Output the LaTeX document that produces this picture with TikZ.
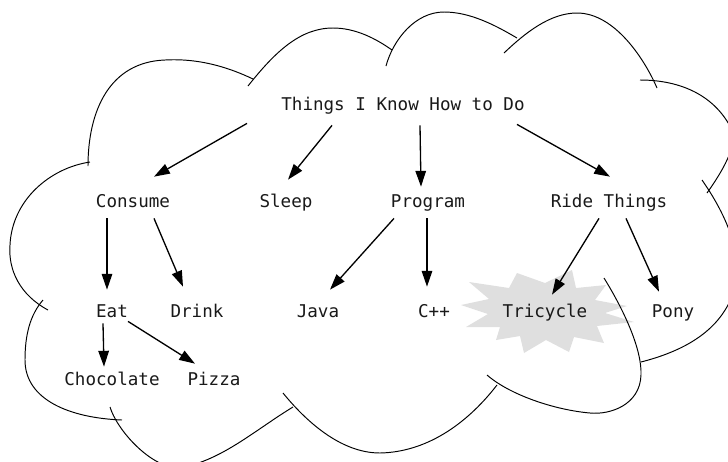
\documentclass[tikz,border=0pt]{standalone}
\usepackage{fontspec}
\newfontfamily\wordfont{DejaVu Sans Mono}
\usetikzlibrary{arrows.meta}

\tikzset{
  word/.style={font=\wordfont\fontsize{10pt}{12pt}\selectfont,text=black!90,
    inner sep=0pt,text height=7.4pt,text depth=2.3pt,anchor=base},
  arr/.style={-{Triangle[length=9pt,width=6pt]},line width=0.75pt},
  cloudline/.style={line width=0.55pt},
  burst/.style={fill=gray!25}
}

\begin{document}
\begin{tikzpicture}[x=0.02cm,y=-0.02cm]
  \useasboundingbox (0,0) rectangle (728,461);
  % star behind Tricycle
  \fill[burst,shift={(545,311)}]
    (-84,-6) -- (-56,-12) -- (-76,-29) -- (-36,-23) -- (-28,-38) -- (0,-28)
    -- (27,-41) -- (31,-23) -- (61,-26) -- (50,-11) -- (82,-5) -- (60,2)
    -- (89,11) -- (52,15) -- (59,32) -- (29,26) -- (24,41) -- (1,29)
    -- (-21,42) -- (-25,25) -- (-49,29) -- (-45,16) -- (-79,16) -- (-57,3) -- cycle;
  \draw
    (403,110) node[word] (root){Things I Know How to Do}
    (133,207) node[word] (consume){Consume}
    (286,207) node[word] (sleep){Sleep}
    (428,207) node[word] (program){Program}
    (609,207) node[word] (ride){Ride Things}
    (112,317) node[word] (eat){Eat}
    (197,317) node[word] (drink){Drink}
    (318,317) node[word] (java){Java}
    (434,317) node[word] (cpp){C++}
    (545,317) node[word] (tricycle){Tricycle}
    (673,317) node[word] (pony){Pony}
    (112,385) node[word] (chocolate){Chocolate}
    (214,385) node[word] (pizza){Pizza};
  \begin{scope}[arr]
    \draw ([shift={(-156,9)}]root.south) -- ([shift={(21,-17)}]consume.north);
    \draw ([shift={(-71,11)}]root.south) -- ([shift={(2,-14)}]sleep.north);
    \draw ([shift={(17,11)}]root.south) -- ([shift={(-7,-7)}]program.north);
    \draw ([shift={(114,10)}]root.south) -- ([shift={(1,-17)}]ride.north);
    \draw ([shift={(-26,7)}]consume.south) -- ([shift={(-5,-14)}]eat.north);
    \draw ([shift={(21,7)}]consume.south) -- ([shift={(-14,-17)}]drink.north);
    \draw ([shift={(-34,7)}]program.south) -- ([shift={(12,-14)}]java.north);
    \draw ([shift={(-1,7)}]program.south) -- ([shift={(-7,-17)}]cpp.north);
    \draw ([shift={(-10,7)}]ride.south) -- ([shift={(7,-9)}]tricycle.north);
    \draw ([shift={(17,7)}]ride.south) -- ([shift={(-14,-12)}]pony.north);
    \draw ([shift={(-9,2)}]eat.south) -- ([shift={(-8,-5)}]chocolate.north);
    \draw ([shift={(16,0)}]eat.south) -- ([shift={(-19,-8)}]pizza.north);
  \end{scope}
  % cloud outline, one arc at a time
  \begin{scope}[cloudline]
    \draw (88,166) .. controls (88,110) and (110,62) .. (165,60)
      .. controls (200,58) and (230,68) .. (253,79);
    \draw (248,86) .. controls (275,52) and (300,28) .. (333,28)
      .. controls (355,28) and (375,38) .. (392,50);
    \draw (386,66) .. controls (393,40) and (415,12) .. (444,12)
      .. controls (470,12) and (495,25) .. (517,38);
    \draw (504,53) .. controls (525,33) and (550,13) .. (577,13)
      .. controls (615,13) and (645,60) .. (657,88);
    \draw (640,80) .. controls (680,80) and (715,95) .. (732,130)
      .. controls (738,145) and (722,172) .. (707,193);
    \draw (702,180) .. controls (730,220) and (750,270) .. (728,305)
      .. controls (712,335) and (680,352) .. (641,362);
    \draw (604,278) .. controls (625,312) and (642,350) .. (641,375)
      .. controls (640,405) and (610,415) .. (590,413)
      .. controls (555,410) and (510,395) .. (487,375);
    \draw (497,385) .. controls (470,420) and (430,452) .. (380,453)
      .. controls (340,453) and (305,420) .. (283,393);
    \draw (293,407) .. controls (255,430) and (220,462) .. (178,468)
      .. controls (150,467) and (117,430) .. (110,407);
    \draw (122,420) .. controls (70,418) and (25,400) .. (25,360)
      .. controls (25,335) and (30,315) .. (43,300);
    \draw (48,310) .. controls (20,295) and (8,270) .. (10,245)
      .. controls (12,200) and (50,168) .. (90,162);
  \end{scope}
\end{tikzpicture}
\end{document}
